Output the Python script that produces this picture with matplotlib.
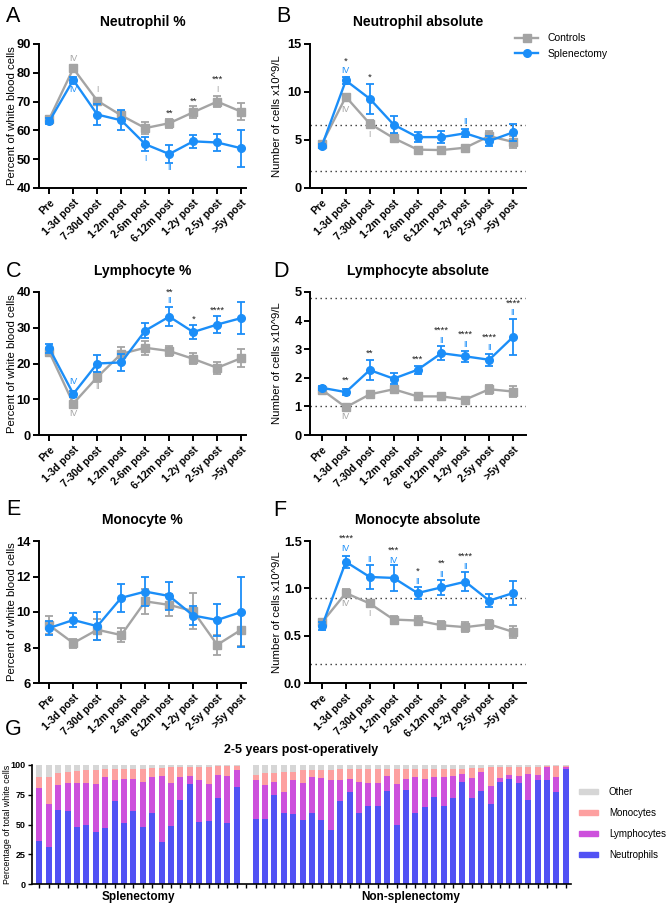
import numpy as np
import matplotlib.pyplot as plt
from matplotlib.lines import Line2D
from matplotlib.patches import Patch

plt.rcParams['font.family'] = ['Liberation Sans', 'DejaVu Sans']

timepoints = ['Pre', '1-3d post', '7-30d post', '1-2m post', '2-6m post',
              '6-12m post', '1-2y post', '2-5y post', '>5y post']

# Neutrophil %
neut_pct_ctrl = [64.0, 81.5, 70.3, 65.2, 60.8, 62.5, 66.3, 70.0, 66.5]
neut_pct_ctrl_err = [1.0, 1.0, 1.0, 1.5, 2.0, 1.5, 2.0, 2.0, 3.0]
neut_pct_spl = [63.2, 77.5, 65.5, 63.5, 55.2, 51.8, 56.2, 55.8, 53.8]
neut_pct_spl_err = [1.0, 1.0, 3.6, 3.5, 2.5, 3.2, 2.2, 3.0, 6.5]

# Neutrophil absolute
neut_abs_ctrl = [4.6, 9.5, 6.7, 5.2, 4.0, 3.95, 4.2, 5.4, 4.8]
neut_abs_ctrl_err = [0.2, 0.3, 0.4, 0.4, 0.3, 0.2, 0.2, 0.5, 0.6]
neut_abs_spl = [4.4, 11.2, 9.3, 6.6, 5.3, 5.3, 5.7, 4.9, 5.8]
neut_abs_spl_err = [0.2, 0.4, 1.55, 0.9, 0.5, 0.6, 0.4, 0.5, 0.9]

# Lymphocyte %
lymph_pct_ctrl = [23.2, 8.8, 16.2, 22.7, 24.4, 23.5, 21.3, 18.8, 21.5]
lymph_pct_ctrl_err = [1.0, 0.5, 1.5, 2.0, 2.0, 1.5, 1.5, 1.7, 2.6]
lymph_pct_spl = [24.2, 11.5, 20.0, 20.3, 29.2, 33.1, 28.8, 30.9, 32.7]
lymph_pct_spl_err = [1.3, 0.8, 2.4, 2.4, 2.2, 2.6, 2.0, 2.4, 4.5]

# Lymphocyte absolute
lymph_abs_ctrl = [1.58, 0.97, 1.42, 1.6, 1.35, 1.35, 1.24, 1.6, 1.52]
lymph_abs_ctrl_err = [0.05, 0.04, 0.05, 0.06, 0.05, 0.05, 0.05, 0.15, 0.2]
lymph_abs_spl = [1.65, 1.5, 2.27, 1.97, 2.28, 2.86, 2.75, 2.63, 3.43]
lymph_abs_spl_err = [0.08, 0.1, 0.35, 0.2, 0.15, 0.25, 0.2, 0.2, 0.63]

# Monocyte %
mono_pct_ctrl = [9.25, 8.25, 9.0, 8.7, 10.6, 10.4, 10.05, 8.15, 9.0]
mono_pct_ctrl_err = [0.5, 0.25, 0.6, 0.4, 0.7, 0.6, 1.0, 0.55, 0.9]
mono_pct_spl = [9.1, 9.55, 9.2, 10.8, 11.15, 10.9, 9.8, 9.55, 10.0]
mono_pct_spl_err = [0.4, 0.4, 0.8, 0.8, 0.8, 0.8, 0.55, 0.88, 1.95]

# Monocyte absolute
mono_abs_ctrl = [0.64, 0.95, 0.84, 0.67, 0.66, 0.61, 0.59, 0.62, 0.54]
mono_abs_ctrl_err = [0.03, 0.04, 0.04, 0.04, 0.05, 0.04, 0.05, 0.05, 0.06]
mono_abs_spl = [0.6, 1.28, 1.12, 1.11, 0.95, 1.01, 1.07, 0.87, 0.95]
mono_abs_spl_err = [0.04, 0.06, 0.13, 0.14, 0.06, 0.08, 0.1, 0.07, 0.13]

# significance labels: (timepoint index, y, text, colour key)
neut_pct_notes = [(1, 85.1, 'IV', 'g'), (1, 74.3, 'IV', 'b'), (2, 74.1, 'I', 'g'),
                  (4, 50.4, 'I', 'b'), (5, 66.0, '**', 'k'), (5, 47.0, 'II', 'b'),
                  (6, 70.1, '**', 'k'), (7, 77.6, '***', 'k'), (7, 74.1, 'I', 'g')]
neut_abs_notes = [(1, 13.2, '*', 'k'), (1, 12.2, 'IV', 'b'), (1, 8.2, 'IV', 'g'),
                  (2, 11.5, '*', 'k'), (2, 5.55, 'I', 'g'), (6, 6.9, 'II', 'b')]
lymph_pct_notes = [(1, 14.9, 'IV', 'b'), (1, 6.0, 'IV', 'g'), (2, 13.5, 'II', 'g'),
                   (5, 40.0, '**', 'k'), (5, 37.5, 'II', 'b'), (6, 32.3, '*', 'k'),
                   (7, 34.9, '****', 'k')]
lymph_abs_notes = [(1, 1.92, '**', 'k'), (1, 0.64, 'IV', 'g'), (2, 2.85, '**', 'k'),
                   (4, 2.64, '***', 'k'), (5, 3.68, '****', 'k'), (5, 3.31, 'II', 'b'),
                   (6, 3.51, '****', 'k'), (6, 3.17, 'II', 'b'), (7, 3.42, '****', 'k'),
                   (7, 3.05, 'II', 'b'), (8, 4.62, '****', 'k'), (8, 4.28, 'II', 'b')]
mono_abs_notes = [(1, 1.53, '****', 'k'), (1, 1.42, 'IV', 'b'), (1, 0.84, 'IV', 'g'),
                  (2, 1.3, 'II', 'b'), (2, 0.73, 'I', 'g'), (3, 1.40, '***', 'k'),
                  (3, 1.29, 'IV', 'b'), (4, 1.18, '*', 'k'), (4, 1.07, 'II', 'b'),
                  (5, 1.26, '**', 'k'), (5, 1.15, 'II', 'b'), (6, 1.34, '****', 'k'),
                  (6, 1.23, 'II', 'b')]

# Panel G: per-patient composition (%) at 2-5 years
spl_neut = [36, 31.5, 62, 61.5, 48, 50, 43.5, 47, 70, 51, 61.5, 48, 60, 35.5, 49,
            71, 84, 52.5, 53, 72.5, 51, 81.5]
spl_lymph = [45, 35.5, 21, 23, 37, 35, 40.5, 43, 17.5, 37, 26.5, 38, 29.5, 55.5, 36,
             19, 6.5, 34.5, 31, 19.5, 39.5, 14.5]
spl_mono = [9, 23, 10.5, 10, 10, 10.5, 12, 7, 9.5, 9, 9, 11, 8, 6.5, 13,
            8, 7.5, 11, 14.5, 7, 9, 3.5]
non_neut = [55, 54.5, 75, 60, 58.5, 53.5, 60, 54, 45, 70, 77.5, 59.5, 65.5, 65.5, 78.5,
            50, 79, 59.5, 65, 73, 65.5, 72.5, 85.5, 72, 78, 67, 85.5, 88, 85, 71,
            87, 87, 77.5, 97]
non_lymph = [32, 29, 11, 17.5, 29, 31.5, 30, 35, 42, 17, 11, 26.5, 19.5, 19.5, 12.5,
             34, 9, 30.5, 23.5, 16.5, 24.5, 18, 7, 17, 16, 15.5, 3.5, 4, 5.5, 21.5,
             4.5, 11, 12.5, 1.5]
non_mono = [4.5, 9.5, 7.5, 16.5, 6.5, 10.5, 5.5, 7, 9, 9.5, 8, 10.5, 11.5, 11.5, 5.5,
            12.5, 8.5, 7, 8.5, 7.5, 7, 6.5, 4.5, 8.5, 3.5, 16, 9.5, 6.5, 8, 6,
            7, 1, 9, 1]

BLUE = '#1b8ef8'
GRAY = '#a4a4a4'
NOTE_COLORS = {'k': '#222222', 'b': BLUE, 'g': GRAY}
C_NEUT, C_LYMPH, C_MONO, C_OTHER = '#5252f4', '#cd50dc', '#fda0a0', '#d6d6d6'

W, H = 669, 909
fig = plt.figure(figsize=(W / 100, H / 100), dpi=100)


def add_ax(l, t, r, b):
    return fig.add_axes([l / W, 1 - b / H, (r - l) / W, (b - t) / H])


def line_panel(ax, ctrl, ctrl_err, spl, spl_err, ylim, ystep, ylabel, title,
               xlim, label_x, refs=(), notes=(), fmt='{:g}'):
    x = np.arange(len(timepoints))
    for r in refs:
        ax.axhline(r, color='#333333', ls=(0, (1, 2.6)), lw=1.0, zorder=1)
    ax.errorbar(x, ctrl, yerr=ctrl_err, color=GRAY, marker='s', ms=5.5, lw=1.7,
                elinewidth=1.3, capsize=3, capthick=1.3, zorder=3)
    ax.errorbar(x, spl, yerr=spl_err, color=BLUE, marker='o', ms=5.5, lw=1.7,
                elinewidth=1.3, capsize=3, capthick=1.3, zorder=4)
    for i, y, s, c in notes:
        ax.text(i, y, s, color=NOTE_COLORS[c], ha='center', va='center',
                fontsize=6.3 if c != 'k' else 6.8, clip_on=False, zorder=5)
    ax.set_xlim(*xlim)
    ax.set_ylim(*ylim)
    ticks = np.arange(ylim[0], ylim[1] + ystep / 2, ystep)
    ax.set_yticks(ticks)
    ax.set_yticklabels([fmt.format(t) for t in ticks], fontsize=9.3, fontweight='bold')
    ax.set_xticks(x)
    ax.set_xticklabels(timepoints, rotation=45, ha='right', rotation_mode='anchor',
                       fontsize=7.6, fontweight='bold')
    for s in ['top', 'right']:
        ax.spines[s].set_visible(False)
    for s in ['left', 'bottom']:
        ax.spines[s].set_linewidth(1.4)
    ax.tick_params(width=1.4, length=4, pad=2)
    ax.tick_params(axis='x', pad=3)
    ax.set_ylabel(ylabel, fontsize=8.2)
    ax.yaxis.set_label_coords(label_x, 0.5)
    ax.text(0.5, 1.15, title, transform=ax.transAxes, ha='center', va='center',
            fontsize=10, fontweight='bold')


pct_label = 'Percent of white blood cells'
abs_label = 'Number of cells x10^9/L'
LX = (-0.43, 8.2)
RX = (-0.5, 8.54)

axA = add_ax(39, 44, 246, 188)
line_panel(axA, neut_pct_ctrl, neut_pct_ctrl_err, neut_pct_spl, neut_pct_spl_err,
           (40, 90), 10, pct_label, 'Neutrophil %', LX, -0.105, notes=neut_pct_notes)
axB = add_ax(310, 44, 526, 188)
line_panel(axB, neut_abs_ctrl, neut_abs_ctrl_err, neut_abs_spl, neut_abs_spl_err,
           (0, 15), 5, abs_label, 'Neutrophil absolute', RX, -0.128,
           refs=(6.6, 1.8), notes=neut_abs_notes)
axC = add_ax(39, 292, 246, 435)
line_panel(axC, lymph_pct_ctrl, lymph_pct_ctrl_err, lymph_pct_spl, lymph_pct_spl_err,
           (0, 40), 10, pct_label, 'Lymphocyte %', LX, -0.105, notes=lymph_pct_notes)
axD = add_ax(310, 292, 526, 435)
line_panel(axD, lymph_abs_ctrl, lymph_abs_ctrl_err, lymph_abs_spl, lymph_abs_spl_err,
           (0, 5), 1, abs_label, 'Lymphocyte absolute', RX, -0.128,
           refs=(4.8, 1.0), notes=lymph_abs_notes)
axE = add_ax(39, 541, 246, 683)
line_panel(axE, mono_pct_ctrl, mono_pct_ctrl_err, mono_pct_spl, mono_pct_spl_err,
           (6, 14), 2, pct_label, 'Monocyte %', LX, -0.105)
axF = add_ax(310, 541, 526, 683)
line_panel(axF, mono_abs_ctrl, mono_abs_ctrl_err, mono_abs_spl, mono_abs_spl_err,
           (0, 1.5), 0.5, abs_label, 'Monocyte absolute', RX, -0.128,
           refs=(0.9, 0.2), notes=mono_abs_notes, fmt='{:.1f}')

handles = [Line2D([], [], color=GRAY, marker='s', ms=5.5, lw=1.7),
           Line2D([], [], color=BLUE, marker='o', ms=5.5, lw=1.7)]
fig.legend(handles, ['Controls', 'Splenectomy'], loc='upper left',
           bbox_to_anchor=(506 / W, 1 - 24 / H), frameon=False, fontsize=7.5,
           handlelength=2.2, handletextpad=0.9, labelspacing=0.55)

# panel G stacked bars
axG = add_ax(32, 765, 571, 884)
neut = np.array(spl_neut + [0] + non_neut, dtype=float)
lymph = np.array(spl_lymph + [0] + non_lymph, dtype=float)
mono = np.array(spl_mono + [0] + non_mono, dtype=float)
other = 100 - neut - lymph - mono
gap = len(spl_neut)
other[gap] = 0
xg = np.arange(len(neut))
bw = 0.64
axG.bar(xg, neut, bw, color=C_NEUT, label='Neutrophils')
axG.bar(xg, lymph, bw, bottom=neut, color=C_LYMPH, label='Lymphocytes')
axG.bar(xg, mono, bw, bottom=neut + lymph, color=C_MONO, label='Monocytes')
axG.bar(xg, other, bw, bottom=neut + lymph + mono, color=C_OTHER, label='Other')
axG.set_xlim(-0.78, len(neut) - 0.44)
axG.set_ylim(0, 100)
axG.set_yticks([0, 25, 50, 75, 100])
axG.set_yticklabels(['0', '25', '50', '75', '100'], fontsize=6.5, fontweight='bold')
axG.set_xticks(xg)
axG.set_xticklabels([])
for s in ['top', 'right']:
    axG.spines[s].set_visible(False)
for s in ['left', 'bottom']:
    axG.spines[s].set_linewidth(1.2)
axG.tick_params(width=1.0, length=3, pad=1.5)
axG.set_ylabel('Percentage of total white cells', fontsize=6.4)
axG.yaxis.set_label_coords(-0.038, 0.5)
axG.text(0.5, 1.13, '2-5 years post-operatively', transform=axG.transAxes,
         ha='center', va='center', fontsize=9, fontweight='bold')
axG.text((gap - 1) / 2, -11, 'Splenectomy', ha='center', va='center',
         fontsize=8.5, fontweight='bold')
axG.text((gap + 1 + len(neut) - 1) / 2, -11, 'Non-splenectomy', ha='center',
         va='center', fontsize=8.5, fontweight='bold')
g_handles = [Patch(color=C_OTHER), Patch(color=C_MONO), Patch(color=C_LYMPH),
             Patch(color=C_NEUT)]
fig.legend(g_handles, ['Other', 'Monocytes', 'Lymphocytes', 'Neutrophils'],
           loc='upper left', bbox_to_anchor=(570 / W, 1 - 778 / H), frameon=False,
           fontsize=7, handlelength=2.0, handleheight=0.45, handletextpad=1.1,
           labelspacing=1.15)

# panel letters
for letter, px, py in [('A', 6, 6), ('B', 276, 6), ('C', 6, 261), ('D', 273, 261),
                       ('E', 6, 499), ('F', 273, 500), ('G', 5, 719)]:
    fig.text(px / W, 1 - py / H, letter, ha='left', va='top', fontsize=15.5)

fig.savefig('out.png', dpi=100)
